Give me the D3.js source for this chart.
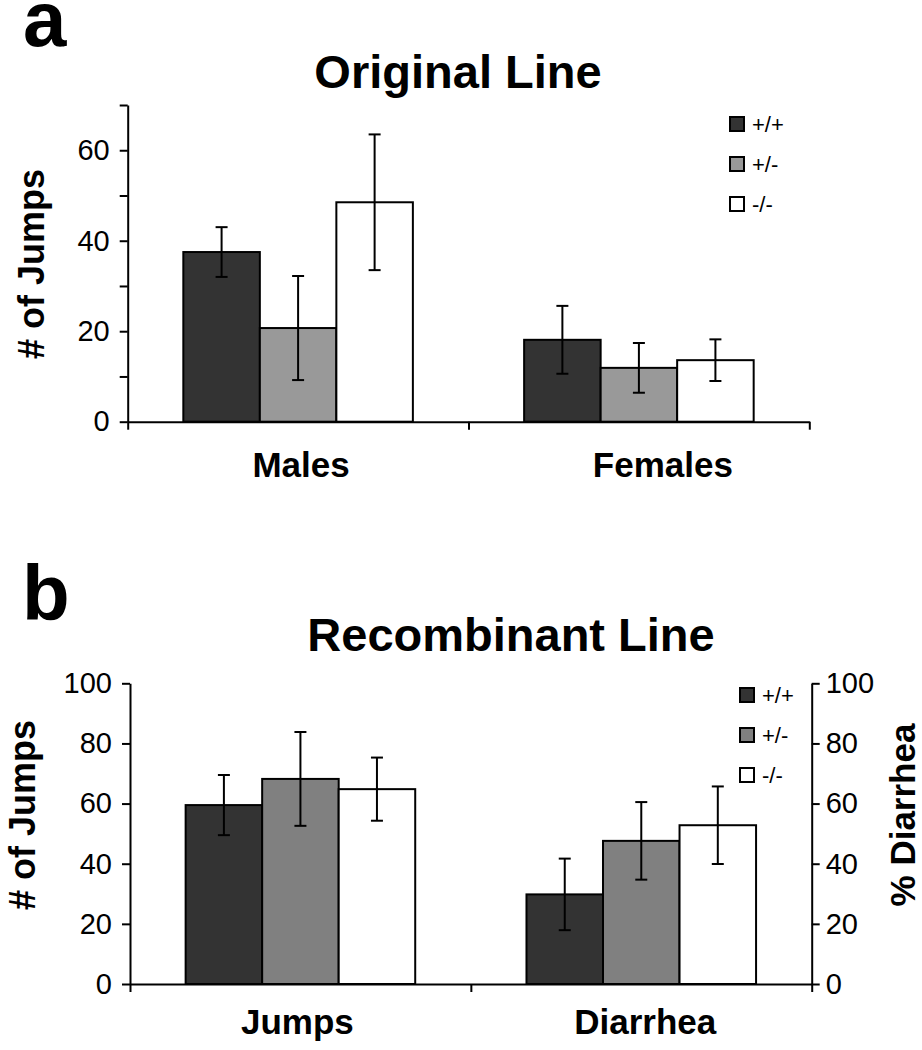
<!DOCTYPE html>
<html>
<head>
<meta charset="utf-8">
<script src="https://cdn.jsdelivr.net/npm/d3@7"></script>
<style>
body{margin:0;background:#fff}
text{font-family:"Liberation Sans",Arial,Helvetica,sans-serif;fill:#000}
</style>
</head>
<body>
<div class="graph"></div>
<script>
// genotypes (legend)
const genotypes = ["+/+", "+/-", "-/-"]

// panel a - Original Line
const catsA = ["Males", "Females"]
const meansA = [[37.5, 20.7, 48.5], [18.1, 11.9, 13.6]]
const errsA = [[5.5, 11.5, 15.0], [7.5, 5.5, 4.6]]
const ticksA = [0, 10, 20, 30, 40, 50, 60, 70]
const labelsA = [0, 20, 40, 60]

// panel b - Recombinant Line
const catsB = ["Jumps", "Diarrhea"]
const meansB = [[59.5, 68.2, 64.8], [29.8, 47.6, 52.8]]
const errsB = [[10.0, 15.6, 10.5], [11.9, 12.9, 12.9]]
const ticksB = [0, 20, 40, 60, 80, 100]

const w = 922
const h = 1050

const svg = d3.select(".graph")
  .append("svg")
  .attr("width", w)
  .attr("height", h)
  .style("background", "#fff")

function drawPanel(o){
  const g = svg.append("g")

  const y = d3.scaleLinear().domain([0, o.max]).range([o.bottom, o.top])
  const x0 = d3.scaleBand().domain(o.cats).range([o.left, o.right])
  const x1 = d3.scaleBand().domain(genotypes).range([0, x0.bandwidth()])
    .paddingInner(0).paddingOuter(0.727)
  const xb = d3.scaleLinear().domain([0, o.cats.length]).range([o.left, o.right])

  // bars
  o.cats.forEach((c, ci) => {
    const grp = g.append("g").attr("transform", "translate(" + x0(c) + ",0)")
    grp.selectAll("rect")
      .data(o.means[ci])
      .enter()
      .append("rect")
      .attr("x", (d, i) => x1(genotypes[i]))
      .attr("y", d => y(d))
      .attr("width", x1.bandwidth())
      .attr("height", d => y(0) - y(d))
      .style("fill", (d, i) => o.colors[i])
      .style("stroke", "#000")
      .style("stroke-width", 2)

    // error bars
    const eb = grp.selectAll(".err")
      .data(o.means[ci].map((m, i) => ({m: m, e: o.errs[ci][i], i: i})))
      .enter()
      .append("g")
      .attr("class", "err")
      .attr("transform", d => "translate(" + (x1(genotypes[d.i]) + x1.bandwidth() / 2) + ",0)")
    eb.append("line").attr("y1", d => y(d.m - d.e)).attr("y2", d => y(d.m + d.e))
    eb.append("line").attr("x1", -6).attr("x2", 6).attr("y1", d => y(d.m + d.e)).attr("y2", d => y(d.m + d.e))
    eb.append("line").attr("x1", -6).attr("x2", 6).attr("y1", d => y(d.m - d.e)).attr("y2", d => y(d.m - d.e))
    eb.selectAll("line").style("stroke", "#000").style("stroke-width", 2)
  })

  // left axis
  g.append("g")
    .attr("transform", "translate(" + o.left + ",0)")
    .call(d3.axisLeft(y).tickValues(o.ticks).tickSize(8).tickSizeOuter(0).tickPadding(10)
      .tickFormat(d => o.labels.includes(d) ? d : ""))
    .call(a => a.selectAll("text").style("font-size", "29px"))

  // right axis
  if (o.rightAxis) {
    g.append("g")
      .attr("transform", "translate(" + o.right + ",0)")
      .call(d3.axisRight(y).tickValues(o.ticks).tickSize(8).tickSizeOuter(0).tickPadding(6))
      .call(a => a.selectAll("text").style("font-size", "29px"))
  }

  // bottom axis with ticks at category boundaries
  g.append("g")
    .attr("transform", "translate(0," + o.bottom + ")")
    .call(d3.axisBottom(xb).tickValues(d3.range(o.cats.length + 1)).tickSize(8).tickSizeOuter(0).tickFormat(""))

  g.selectAll(".domain, .tick line").style("stroke", "#000").style("stroke-width", 2)

  // category labels
  g.selectAll(".cat")
    .data(o.cats)
    .enter()
    .append("text")
    .attr("class", "cat")
    .attr("x", (d, i) => x0(d) + x0.bandwidth() / 2 + o.labelDx[i])
    .attr("y", o.catY)
    .attr("text-anchor", "middle")
    .style("font-size", "35px")
    .style("font-weight", "bold")
    .text(d => d)

  // title + panel letter
  g.append("text").attr("x", o.titleX).attr("y", o.titleY)
    .attr("text-anchor", "middle").style("font-size", "47px").style("font-weight", "bold")
    .text(o.title)
  g.append("text").attr("x", o.letterX).attr("y", o.letterY)
    .style("font-size", "78px").style("font-weight", "bold")
    .text(o.letter)

  // y titles
  g.append("text")
    .attr("transform", "translate(" + o.yTitleX + "," + o.yTitleY + ") rotate(-90)")
    .attr("text-anchor", "middle").style("font-size", "36px").style("font-weight", "bold")
    .text("# of Jumps")
  if (o.rightAxis) {
    g.append("text")
      .attr("transform", "translate(" + o.y2TitleX + "," + o.yTitleY + ") rotate(-90)")
      .attr("text-anchor", "middle").style("font-size", "35px").style("font-weight", "bold")
      .text("% Diarrhea")
  }

  // legend
  const lg = g.selectAll(".leg")
    .data(genotypes)
    .enter()
    .append("g")
    .attr("class", "leg")
    .attr("transform", (d, i) => "translate(" + o.legX + "," + (o.legY + i * 40) + ")")
  lg.append("rect").attr("width", 14).attr("height", 14)
    .style("fill", (d, i) => o.colors[i]).style("stroke", "#000").style("stroke-width", 2)
  lg.append("text").attr("x", 22).attr("y", 15).style("font-size", "22px").text(d => d)
}

drawPanel({
  cats: catsA, means: meansA, errs: errsA, ticks: ticksA, labels: labelsA, max: 70,
  top: 105, bottom: 421.7, left: 127.7, right: 809.3,
  colors: ["#333333", "#999999", "#ffffff"],
  labelDx: [3, 24], catY: 477,
  title: "Original Line", titleX: 458, titleY: 88,
  letter: "a", letterX: 23, letterY: 46,
  yTitleX: 44, yTitleY: 264,
  legX: 730, legY: 117, rightAxis: false
})

drawPanel({
  cats: catsB, means: meansB, errs: errsB, ticks: ticksB, labels: ticksB, max: 100,
  top: 683.3, bottom: 984, left: 130, right: 811.7,
  colors: ["#333333", "#808080", "#ffffff"],
  labelDx: [-3, 4], catY: 1034,
  title: "Recombinant Line", titleX: 511, titleY: 651,
  letter: "b", letterX: 22, letterY: 620,
  yTitleX: 35, yTitleY: 815, y2TitleX: 915,
  legX: 740, legY: 688, rightAxis: true
})
</script>
</body>
</html>
